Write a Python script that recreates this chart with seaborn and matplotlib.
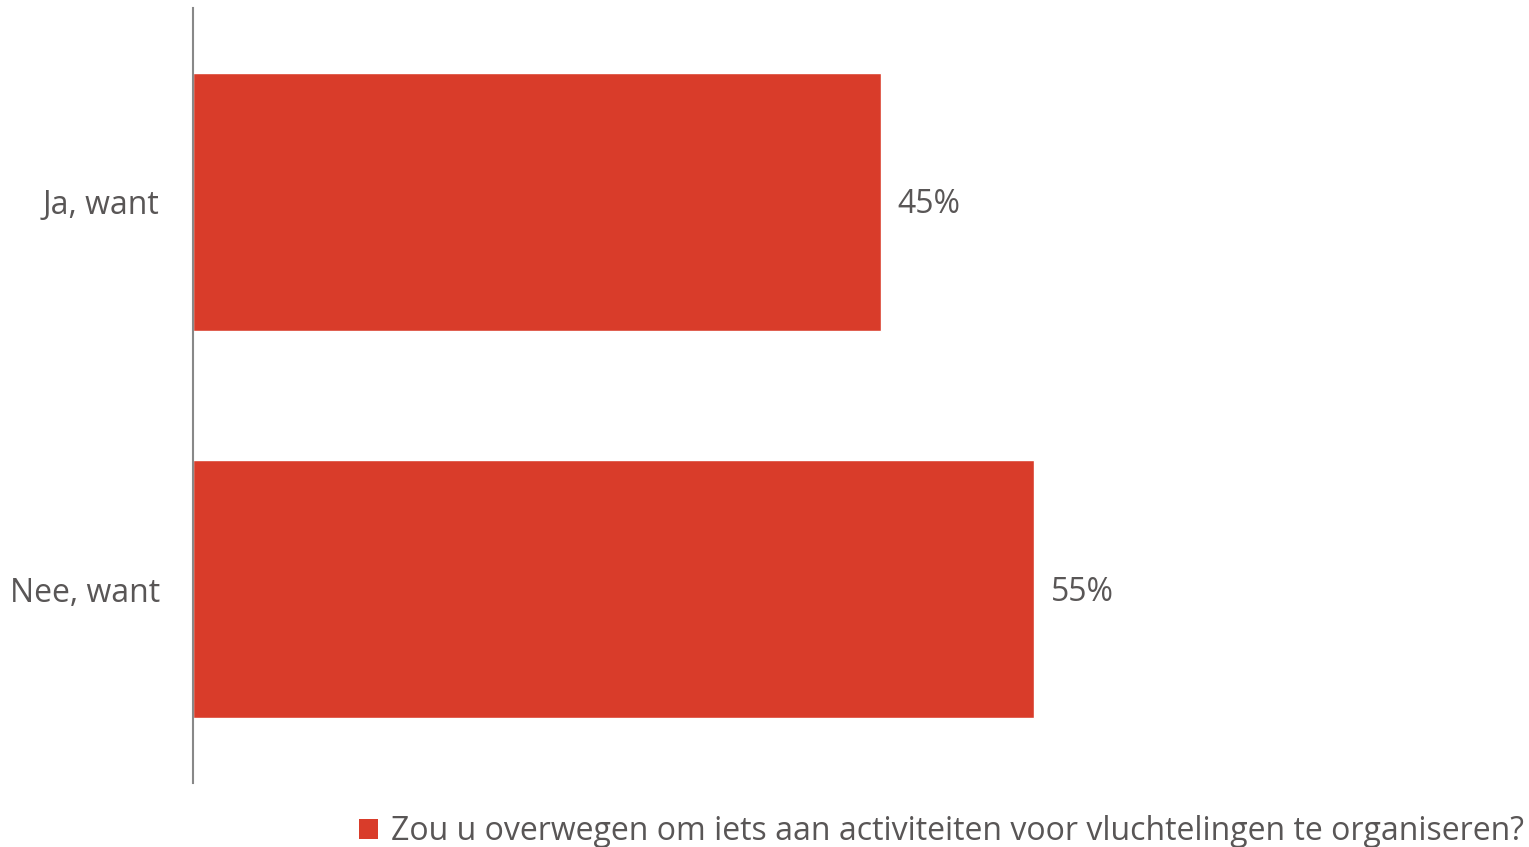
import matplotlib
matplotlib.use("Agg")
import matplotlib.pyplot as plt
import seaborn as sns
import pandas as pd
from matplotlib.patches import Patch

categories = ["Ja, want", "Nee, want"]
values = [45, 55]
series_name = "Zou u overwegen om iets aan activiteiten voor vluchtelingen te organiseren?"

bar_color = "#D93C2A"
text_color = "#595656"

sns.set_theme(style="white")
plt.rcParams['font.family'] = ['Open Sans', 'DejaVu Sans']

df = pd.DataFrame({"cat": categories, "val": values})

fig = plt.figure(figsize=(15.29, 8.47), dpi=100)
ax = fig.add_axes([193/1529, 1 - 783/847, (1520-193)/1529, (783-8)/847])

sns.barplot(data=df, x="val", y="cat", orient="h", color=bar_color,
            saturation=1, width=0.665, ax=ax)

ax.set_xlim(0, 86.8)
ax.set_ylim(1.5, -0.5)
ax.set_xlabel("")
ax.set_ylabel("")
ax.set_xticks([])
for s in ["top", "right", "bottom"]:
    ax.spines[s].set_visible(False)
ax.spines["left"].set_color("#888888")
ax.spines["left"].set_linewidth(1.5)
ax.tick_params(axis="y", length=0, pad=24, labelsize=23, labelcolor=text_color)

for i, v in enumerate(values):
    ax.text(v + 1.1, i + 0.008, f"{v}%", va="center", ha="left", fontsize=23, color=text_color)

handle = Patch(facecolor=bar_color, edgecolor="none")
fig.legend([handle], [series_name], loc="lower right", bbox_to_anchor=(1.0, -0.007),
           frameon=False, fontsize=23, labelcolor=text_color, handlelength=0.6,
           handleheight=0.6, handletextpad=0.4, borderaxespad=0.0, borderpad=0.15)

fig.savefig("out.png", dpi=100)
